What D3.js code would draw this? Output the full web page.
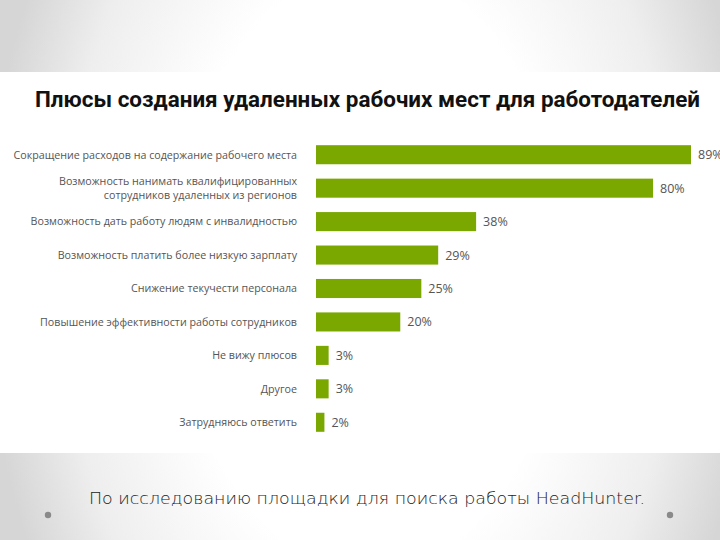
<!DOCTYPE html>
<html><head><meta charset="utf-8">
<script src="https://cdn.jsdelivr.net/npm/d3@7/dist/d3.min.js"></script>
<style>html,body{margin:0;padding:0;}svg{display:block;}</style>
</head><body>
<svg id="c" width="720" height="540"></svg>
<script>
const title = "Плюсы создания удаленных рабочих мест для работодателей";
const categories = [
  ["Сокращение расходов на содержание рабочего места"],
  ["Возможность нанимать квалифицированных", "сотрудников удаленных из регионов"],
  ["Возможность дать работу людям с инвалидностью"],
  ["Возможность платить более низкую зарплату"],
  ["Снижение текучести персонала"],
  ["Повышение эффективности работы сотрудников"],
  ["Не вижу плюсов"],
  ["Другое"],
  ["Затрудняюсь ответить"]
];
const values = [89, 80, 38, 29, 25, 20, 3, 3, 2];
const caption = "По исследованию площадки для поиска работы HeadHunter.";

const svg = d3.select("#c");
const defs = svg.append("defs");
const rg = defs.append("radialGradient").attr("id","bg")
  .attr("gradientUnits","userSpaceOnUse").attr("cx",0).attr("cy",0).attr("r",1)
  .attr("gradientTransform","translate(370,270) scale(385,600)");
rg.append("stop").attr("offset","0%").attr("stop-color","#ffffff");
rg.append("stop").attr("offset","50%").attr("stop-color","#ffffff");
rg.append("stop").attr("offset","80%").attr("stop-color","#eeeeee");
rg.append("stop").attr("offset","100%").attr("stop-color","#d6d6d6");
svg.append("rect").attr("width",720).attr("height",540).attr("fill","url(#bg)");
svg.append("rect").attr("x",0).attr("y",72).attr("width",720).attr("height",381).attr("fill","#ffffff");

svg.append("text").attr("x",35).attr("y",107)
  .attr("font-family","Roboto, sans-serif").attr("font-weight",700)
  .attr("font-size",22).attr("fill","#111").attr("textLength",665)
  .attr("lengthAdjust","spacingAndGlyphs").text(title);

const x = d3.scaleLinear().domain([0, 89]).range([316, 691]);
const y = d3.scaleBand().domain(d3.range(values.length)).range([138.5, 438.5]).paddingInner(0.43).paddingOuter(0.2);

const g = svg.append("g");
g.selectAll("rect.bar").data(values).join("rect").attr("class","bar")
  .attr("x", x(0)).attr("y",(d,i)=>y(i)).attr("width",d=>x(d)-x(0)).attr("height",y.bandwidth())
  .attr("fill","#7aa800");

g.selectAll("text.val").data(values).join("text").attr("class","val")
  .attr("x",d=>x(d)+7).attr("y",(d,i)=>y(i)+y.bandwidth()/2+4.5)
  .attr("font-family","'Open Sans', sans-serif").attr("font-size",12.5).attr("fill","#555")
  .text(d=>d+"%");

const lab = g.selectAll("text.lab").data(categories).join("text").attr("class","lab")
  .attr("text-anchor","end")
  .attr("font-family","'Open Sans', sans-serif").attr("font-size",10.7).attr("fill","#555");
lab.each(function(lines,i){
  const t = d3.select(this);
  const cy = y(i)+y.bandwidth()/2;
  const lh = 13.5;
  lines.forEach((s,k)=>{
    t.append("tspan").attr("x",297).attr("y",cy+3.8+(k-(lines.length-1)/2)*lh).text(s);
  });
});

svg.append("text").attr("x",367).attr("y",504).attr("text-anchor","middle")
  .attr("font-family","'DejaVu Sans', sans-serif").attr("font-weight",200)
  .attr("font-size",16).attr("fill","#222").attr("textLength",556)
  .attr("lengthAdjust","spacingAndGlyphs").text(caption);

svg.selectAll("circle.dot").data([48,670]).join("circle").attr("class","dot")
  .attr("cx",d=>d).attr("cy",515).attr("r",3.2).attr("fill","#8a8a8a");
</script>
</body></html>
